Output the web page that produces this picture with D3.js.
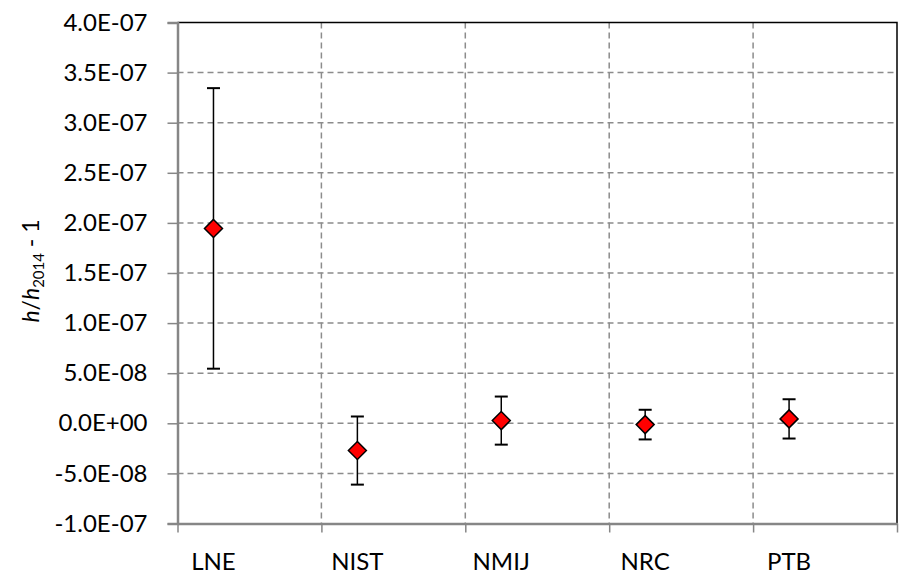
<!DOCTYPE html>
<html>
<head>
<meta charset="utf-8">
<script src="https://cdn.jsdelivr.net/npm/d3@7"></script>
<style>
  body { margin: 0; background: #fff; }
  text { font-family: Lato, "Open Sans", sans-serif; fill: #000; }
</style>
</head>
<body>
<div id="chart"></div>
<script>
var labs = ["LNE", "NIST", "NMIJ", "NRC", "PTB"];
var vals = [1.945e-7, -2.72e-8, 2.7e-9, -1.3e-9, 4.4e-9];
var errs = [1.40e-7, 3.4e-8, 2.4e-8, 1.48e-8, 1.96e-8];
var yTicks = [-1e-7, -5e-8, 0, 5e-8, 1e-7, 1.5e-7, 2e-7, 2.5e-7, 3e-7, 3.5e-7, 4e-7];

var margin = {top: 22.5, right: 2, bottom: 49.5, left: 177.5},
    width = 899 - margin.left - margin.right,
    height = 573 - margin.top - margin.bottom;

var svg = d3.select("#chart")
  .append("svg")
    .attr("width", 899)
    .attr("height", 573)
  .append("g")
    .attr("transform", "translate(" + margin.left + "," + margin.top + ")");

var x = d3.scaleLinear().domain([0.75, 5.75]).range([0, width]);
var y = d3.scaleLinear().domain([-1e-7, 4e-7]).range([height, 0]);

// excel style 4.0E-07
var fmt = function(d) {
  var m = d3.format(".1e")(d).replace("\u2212", "-").split("e");
  var ex = +m[1].replace("\u2212", "-");
  return m[0] + "E" + (ex < 0 ? "-" : "+") + d3.format("02d")(Math.abs(ex));
};

// horizontal grid
svg.append("g").selectAll("line")
  .data(yTicks.filter(function(d) { return d > -1e-7 && d < 4e-7; }))
  .enter().append("line")
    .attr("x1", 0).attr("x2", width)
    .attr("y1", function(d) { return y(d); })
    .attr("y2", function(d) { return y(d); })
    .style("stroke", "#8c8c8c").style("stroke-width", 1.5)
    .style("stroke-dasharray", "6,4");

// vertical grid
var xg = d3.range(1.75, 5.75, 1);
svg.append("g").selectAll("line")
  .data(xg)
  .enter().append("line")
    .attr("x1", function(d) { return x(d); })
    .attr("x2", function(d) { return x(d); })
    .attr("y1", 0).attr("y2", height)
    .style("stroke", "#8c8c8c").style("stroke-width", 1.5)
    .style("stroke-dasharray", "6,4");

// plot border top / right
svg.append("path")
  .attr("d", "M0,0H" + width + "V" + height)
  .style("fill", "none").style("stroke", "#000").style("stroke-width", 1.5);

// y axis
var yAxis = svg.append("g")
  .call(d3.axisLeft(y).tickValues(yTicks).tickFormat(fmt).tickSize(10).tickPadding(20));
yAxis.select(".domain").style("stroke", "#868686").style("stroke-width", 2.5);
yAxis.selectAll(".tick line").style("stroke", "#868686").style("stroke-width", 1.5);
yAxis.selectAll("text").style("font-size", "24px").style("font-family", "Lato, sans-serif").attr("fill", "#000");

// x axis (ticks at gridlines, labels under points)
var xAxis = svg.append("g")
  .attr("transform", "translate(0," + height + ")")
  .call(d3.axisBottom(x).tickValues(d3.range(0.75, 5.76, 1)).tickFormat("").tickSize(9).tickSizeOuter(0));
xAxis.select(".domain").style("stroke", "#868686").style("stroke-width", 2.5);
xAxis.selectAll(".tick line").style("stroke", "#868686").style("stroke-width", 1.5);

svg.append("g").selectAll("text")
  .data(labs)
  .enter().append("text")
    .attr("x", function(d, i) { return x(i + 1); })
    .attr("y", height + 46)
    .attr("text-anchor", "middle")
    .style("font-size", "24px")
    .text(function(d) { return d; });

// y title
var yt = svg.append("text")
  .attr("transform", "translate(" + (-139) + "," + (y(1.52e-7)) + ") rotate(-90)")
  .attr("text-anchor", "middle")
  .style("font-size", "23px");
yt.append("tspan").style("font-style", "italic").text("h");
yt.append("tspan").text("/");
yt.append("tspan").style("font-style", "italic").text("h");
yt.append("tspan").attr("dy", 5).style("font-size", "15px").text("2014");
yt.append("tspan").attr("dy", -5).text(" - 1");

// error bars
var eb = svg.append("g").selectAll("g")
  .data(vals)
  .enter().append("g");
eb.append("line")
  .attr("x1", function(d, i) { return x(i + 1); })
  .attr("x2", function(d, i) { return x(i + 1); })
  .attr("y1", function(d, i) { return y(d + errs[i]); })
  .attr("y2", function(d, i) { return y(d - errs[i]); })
  .style("stroke", "#000").style("stroke-width", 1.5);
[1, -1].forEach(function(s) {
  eb.append("line")
    .attr("x1", function(d, i) { return x(i + 1) - 6.5; })
    .attr("x2", function(d, i) { return x(i + 1) + 6.5; })
    .attr("y1", function(d, i) { return y(d + s * errs[i]); })
    .attr("y2", function(d, i) { return y(d + s * errs[i]); })
    .style("stroke", "#000").style("stroke-width", 2);
});

// markers
svg.append("g").selectAll("path")
  .data(vals)
  .enter().append("path")
    .attr("transform", function(d, i) { return "translate(" + x(i + 1) + "," + y(d) + ")"; })
    .attr("d", "M0,-9L9,0L0,9L-9,0Z")
    .style("fill", "#ff0000").style("stroke", "#000").style("stroke-width", 1.5);
</script>
</body>
</html>
